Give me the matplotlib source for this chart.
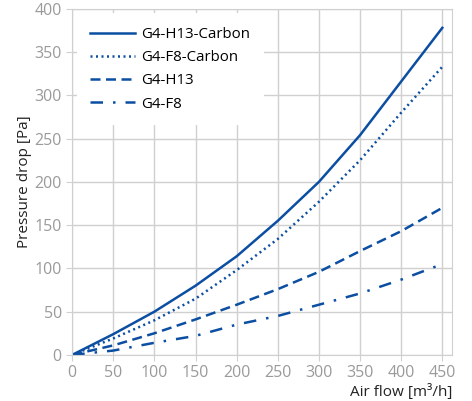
import matplotlib
matplotlib.use("Agg")
import matplotlib.pyplot as plt

airflow = [0, 50, 100, 150, 200, 250, 300, 350, 400, 450]
h13_carbon = [0, 24, 50, 80, 114, 155, 200, 254, 316, 378]
f8_carbon = [0, 19, 40, 65, 98, 134, 177, 225, 280, 333]
h13 = [0, 11, 25, 41, 58, 76, 96, 120, 143, 170]
f8 = [0, 5, 14, 22, 35, 45, 58, 71, 87, 105]

xticks = list(range(0, 451, 50))
yticks = list(range(0, 401, 50))

plt.rcParams['font.family'] = ['Open Sans', 'DejaVu Sans']
blue = '#0b4ea2'
grey = '#9a9a9a'

fig = plt.figure(figsize=(4.72, 4.01), dpi=100)
ax = fig.add_axes([0.153, 0.115, 0.805, 0.863])

ax.plot(airflow, h13_carbon, color=blue, lw=1.8, ls='-', label='G4-H13-Carbon')
ax.plot(airflow, f8_carbon, color=blue, lw=1.8, ls=(0, (0.8, 1.4)), label='G4-F8-Carbon')
ax.plot(airflow, h13, color=blue, lw=1.8, ls=(0, (4, 2.2)), label='G4-H13')
ax.plot(airflow, f8, color=blue, lw=1.8, ls=(0, (5, 4, 1, 4)), label='G4-F8')

ax.set_xlim(0, 462)
ax.set_ylim(0, 400)
ax.set_xticks(xticks)
ax.set_yticks(yticks)
ax.grid(True, color='#d0d0d0', lw=1)
ax.set_axisbelow(True)
for s in ax.spines.values():
    s.set_color('#d0d0d0')
ax.tick_params(colors='#d0d0d0', labelcolor=grey, labelsize=11.5, length=4)

ax.set_ylabel('Pressure drop [Pa]', fontsize=11, color='#222222', labelpad=2)
ax.set_xlabel('Air flow [m³/h]', fontsize=11, color='#222222', loc='right', labelpad=2)

leg = ax.legend(loc='upper left', fontsize=10.8, frameon=True, fancybox=False,
                edgecolor='white', framealpha=1, handlelength=3.0, handletextpad=0.4,
                borderaxespad=0.3, borderpad=0.9, labelspacing=0.55)
leg.get_frame().set_linewidth(0)

fig.savefig('out.png', dpi=100)
